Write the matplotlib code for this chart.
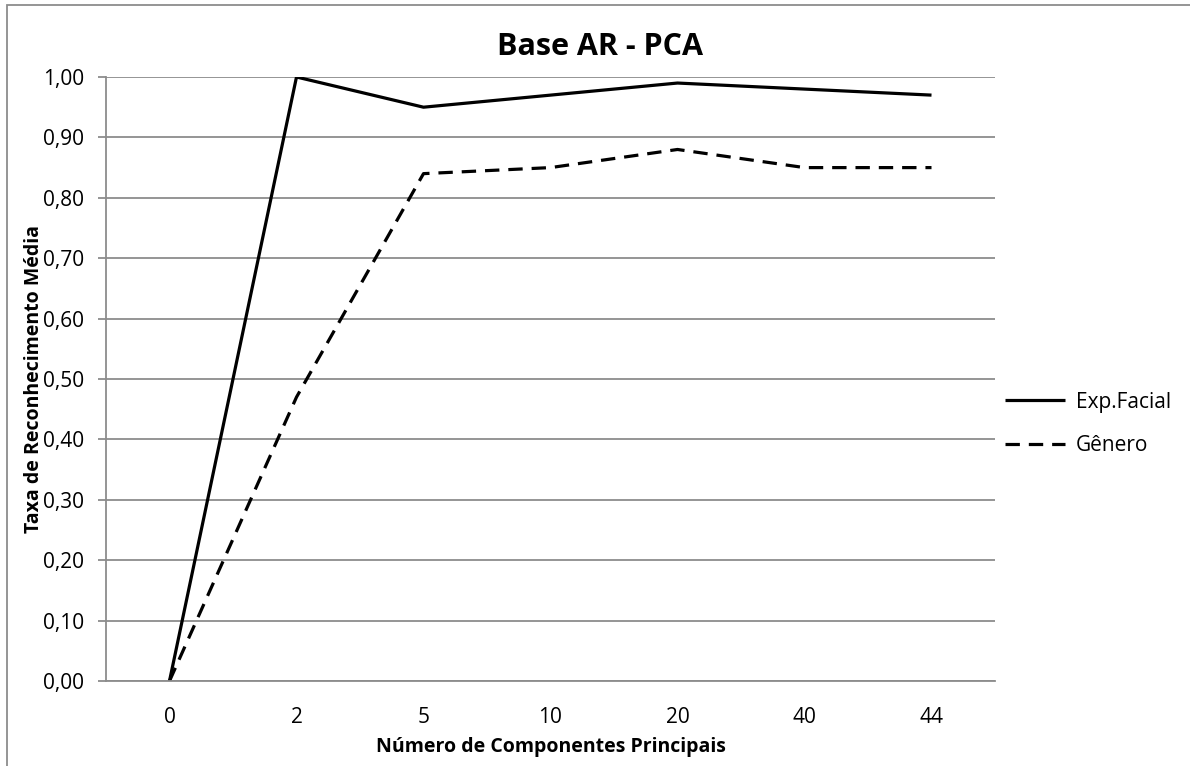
import matplotlib
matplotlib.use("Agg")
import matplotlib.pyplot as plt
from matplotlib.patches import Rectangle

plt.rcParams['font.family'] = ['Open Sans', 'DejaVu Sans']

componentes = ['0', '2', '5', '10', '20', '40', '44']
exp_facial = [0.00, 1.00, 0.95, 0.97, 0.99, 0.98, 0.97]
genero = [0.00, 0.47, 0.84, 0.85, 0.88, 0.85, 0.85]
yticks = [i / 10 for i in range(11)]

W, H = 1190, 766
fig = plt.figure(figsize=(W / 100, H / 100), dpi=100)
ax = fig.add_axes([106 / W, (H - 681) / H, 889 / W, 604 / H])

grid_col = '#8c8c8c'
x = list(range(len(componentes)))
ax.plot(x, exp_facial, color='black', lw=2.3, label='Exp.Facial', solid_capstyle='butt')
ax.plot(x, genero, color='black', lw=2.3, dashes=(4.5, 2.8), label='Gênero', dash_capstyle='butt')

ax.set_xlim(-0.5, len(componentes) - 0.5)
ax.set_ylim(0, 1)
ax.set_xticks(x)
ax.set_xticklabels(componentes)
ax.set_yticks(yticks)
ax.yaxis.set_major_formatter(plt.FuncFormatter(lambda v, p: ('%.2f' % v).replace('.', ',')))
ax.tick_params(axis='x', length=0, pad=19, labelsize=15)
ax.tick_params(axis='y', length=6, width=1.3, color=grid_col, pad=10, labelsize=15)
ax.grid(axis='y', color=grid_col, lw=1.3)
ax.set_axisbelow(True)
for s in ['top', 'right']:
    ax.spines[s].set_visible(False)
for s in ['left', 'bottom']:
    ax.spines[s].set_color(grid_col)
    ax.spines[s].set_linewidth(1.3)

ax.set_xlabel('Número de Componentes Principais', fontsize=14, fontweight='bold', labelpad=6)
ax.set_ylabel('Taxa de Reconhecimento Média', fontsize=14, fontweight='bold')
ax.yaxis.set_label_coords((44 - 106) / 889, 0.5)

fig.text(600 / W, 1 - 47 / H, 'Base AR - PCA', fontsize=22, fontweight='bold',
         ha='center', va='center')

fig.legend(loc='center left', bbox_to_anchor=(1005 / W, 1 - 424 / H), frameon=False,
           fontsize=15, handlelength=2.9, labelspacing=1.1, handletextpad=0.5,
           borderpad=0, borderaxespad=0)

fig.patches.append(Rectangle((7 / W, -0.1), 1.2, 1 - 5 / H + 0.1, transform=fig.transFigure,
                             fill=False, edgecolor=grid_col, lw=1.3))

fig.savefig('out.png', dpi=100)
